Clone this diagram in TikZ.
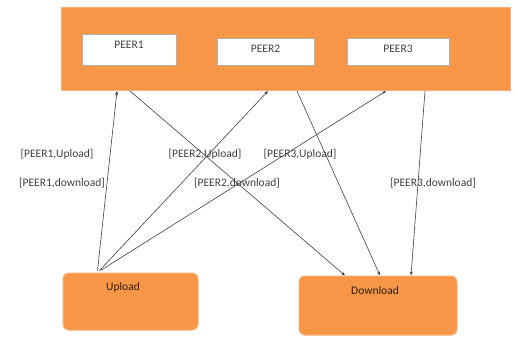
\documentclass[tikz,border=0pt]{standalone}
\usepackage{fontspec}
\setmainfont{Carlito}
\usetikzlibrary{arrows.meta}
\definecolor{og}{HTML}{F79646}
\definecolor{ogline}{HTML}{F9B07A}
\definecolor{txt}{HTML}{404040}
\begin{document}
\begin{tikzpicture}[x=1pt,y=-1pt,
  peerbox/.style={draw=gray!60,fill=white,line width=0.6pt,minimum width=#1,minimum height=27pt,inner sep=0pt,
    font=\fontsize{11.5}{12}\selectfont,text=txt},
  endbox/.style={draw=ogline,fill=og,line width=1pt,rounded corners=6pt,inner sep=0pt},
  lbl/.style={font=\fontsize{11.5}{12}\selectfont,text=txt,inner sep=0pt},
  conn/.style={draw=black!75,line width=0.6pt,-{Stealth[length=4pt,width=3pt]}}]
\useasboundingbox (0,0) rectangle (513,339);
\fill[white] (0,0) rectangle (513,339);
% banner
\node[draw=ogline,fill=og,line width=1pt,minimum width=449pt,minimum height=83pt,inner sep=0pt] (top) at (285.5,49) {};
\node[peerbox=94pt,minimum height=31pt,text depth=9pt] (p1) at (129,49.5) {PEER1};
\node[peerbox=97pt,text depth=6pt] (p2) at (265.5,52) {PEER2};
\node[peerbox=102pt,text depth=6pt] (p3) at (398,52) {PEER3};
% bottom boxes
\node[endbox,minimum width=135pt,minimum height=57pt] (up) at (130.5,301.5) {};
\node[font=\fontsize{11.5}{12}\selectfont,text=black!80!og] (uplbl) at (123,287) {Upload};
\node[endbox,minimum width=158pt,minimum height=59pt] (down) at (378,305.5) {};
\node[font=\fontsize{11.5}{12}\selectfont,text=black!80!og] (downlbl) at (375,291) {Download};
% connectors
\draw[conn] ([xshift=-33pt,yshift=2pt]up.north) -- ([xshift=-12pt]p1.south |- top.south);
\draw[conn] ([xshift=-31pt,yshift=2pt]up.north) -- ([xshift=2.5pt]p2.south |- top.south);
\draw[conn] ([xshift=-30pt,yshift=2pt]up.north) -- ([xshift=-12pt]p3.south |- top.south);
\draw[conn] ([xshift=1pt]p1.south |- top.south) -- ([xshift=-33pt]down.north);
\draw[conn] ([xshift=31.5pt]p2.south |- top.south) -- ([xshift=2pt]down.north);
\draw[conn] ([xshift=27pt]p3.south |- top.south) -- ([xshift=33pt]down.north);
% labels
\node[lbl] (l1) at (57,154) {[PEER1,Upload]};
\node[lbl] (l2) at (62,183) {[PEER1,download]};
\node[lbl] (l3) at (205,154) {[PEER2,Upload]};
\node[lbl] (l4) at (237,183) {[PEER2,download]};
\node[lbl] (l5) at (300,154) {[PEER3,Upload]};
\node[lbl] (l6) at (433,183) {[PEER3,download]};
\end{tikzpicture}
\end{document}
